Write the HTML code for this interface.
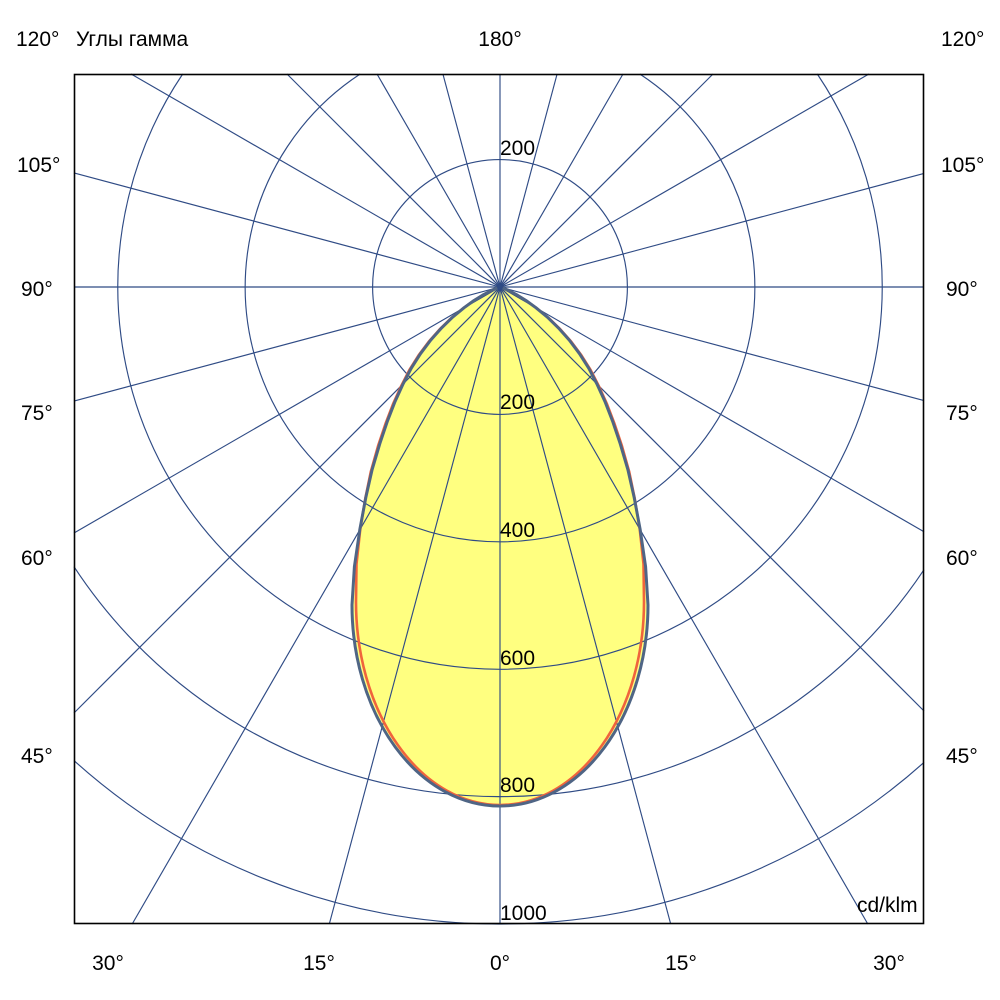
<!DOCTYPE html>
<html>
<head>
<meta charset="utf-8">
<style>
html,body{margin:0;padding:0;background:#fff;width:1000px;height:1000px;overflow:hidden;}
svg{display:block;position:absolute;left:0;top:0;}
text{font-family:"Liberation Sans",Arial,sans-serif;font-size:21px;fill:#000;}
</style>
</head>
<body>
<svg width="1000" height="1000" viewBox="0 0 1000 1000" xmlns="http://www.w3.org/2000/svg">
<rect x="0" y="0" width="1000" height="1000" fill="#fff"/>

<!-- yellow fill (blue curve) -->
<path fill="#ffff80" stroke="none" d="M500,287 L494.0,289.2 482.7,295.1 474.0,300.5 464.1,307.7 452.7,317.1 441.6,327.9 430.7,340.1 420.5,353.7 411.2,368.3 403.1,383.9 395.0,401.6 387.4,421.2 379.8,443.7 372.1,469.7 365.8,497.6 359.8,529.7 354.4,566.7 352,605 A148,201 0 0 0 648,605 L645.6,566.7 640.2,529.7 634.2,497.6 627.9,469.7 620.2,443.7 612.6,421.2 605.0,401.6 596.9,383.9 588.8,368.3 579.5,353.7 569.3,340.1 558.4,327.9 547.3,317.1 535.9,307.7 526.0,300.5 517.3,295.1 506.0,289.2 Z"/>

<!-- grid -->
<g stroke="#2f4b85" stroke-width="1.15" fill="none">
<circle cx="500" cy="287" r="127.4"/>
<path d="M360.2,74 A254.8,254.8 0 1 0 639.8,74"/>
<path d="M182.7,74 A382.2,382.2 0 1 0 817.3,74"/>
<path d="M74,566.7 A509.6,509.6 0 0 0 924,569.7"/>
<path d="M74,760.6 A637,637 0 0 0 924,762.4"/>
<line x1="74" y1="287" x2="924" y2="287"/>
<line x1="74" y1="172.9" x2="924" y2="400.6"/>
<line x1="131.1" y1="74" x2="924" y2="531.8"/>
<line x1="287" y1="74" x2="924" y2="711"/>
<line x1="377" y1="74" x2="867.8" y2="924"/>
<line x1="442.9" y1="74" x2="670.7" y2="924"/>
<line x1="500" y1="74" x2="500" y2="924"/>
<line x1="557.1" y1="74" x2="329.3" y2="924"/>
<line x1="623" y1="74" x2="132.2" y2="924"/>
<line x1="713" y1="74" x2="74" y2="713"/>
<line x1="868.9" y1="74" x2="74" y2="533"/>
<line x1="924" y1="173.4" x2="74" y2="401.1"/>
</g>

<!-- red curve -->
<path fill="none" stroke="#f0643c" stroke-width="2.6" stroke-linejoin="round" d="M500,287 L494.0,289.2 482.7,295.1 473.6,300.8 463.3,308.2 451.3,318.0 439.8,329.2 428.8,341.6 418.6,355.3 409.4,370.0 401.4,385.6 393.3,403.4 385.7,423.2 378.1,445.8 370.9,471.3 365.3,498.4 360.3,528.9 356.5,564.0 356,602 A144,203 0 0 0 644,602 L643.5,564.0 639.7,528.9 634.7,498.4 629.1,471.3 621.9,445.8 614.3,423.2 606.7,403.4 598.6,385.6 590.6,370.0 581.4,355.3 571.2,341.6 560.2,329.2 548.7,318.0 536.7,308.2 526.4,300.8 517.3,295.1 506.0,289.2 Z"/>

<!-- blue curve -->
<path fill="none" stroke="#4f6585" stroke-width="3" stroke-linejoin="round" d="M500,287 L494.0,289.2 482.7,295.1 474.0,300.5 464.1,307.7 452.7,317.1 441.6,327.9 430.7,340.1 420.5,353.7 411.2,368.3 403.1,383.9 395.0,401.6 387.4,421.2 379.8,443.7 372.1,469.7 365.8,497.6 359.8,529.7 354.4,566.7 352,605 A148,201 0 0 0 648,605 L645.6,566.7 640.2,529.7 634.2,497.6 627.9,469.7 620.2,443.7 612.6,421.2 605.0,401.6 596.9,383.9 588.8,368.3 579.5,353.7 569.3,340.1 558.4,327.9 547.3,317.1 535.9,307.7 526.0,300.5 517.3,295.1 506.0,289.2 Z"/>

<circle cx="500" cy="287" r="3" fill="#2f4b85"/>

<!-- box -->
<rect x="74.5" y="74.5" width="849" height="849" fill="none" stroke="#000" stroke-width="1.6"/>

<!-- radial value labels -->
<text x="500" y="155">200</text>
<text x="500" y="409">200</text>
<text x="500" y="537">400</text>
<text x="500" y="665">600</text>
<text x="500" y="792">800</text>
<text x="500" y="920">1000</text>
<text x="857" y="912">cd/klm</text>

<!-- top labels -->
<text x="16" y="46">120°</text>
<text x="76" y="46">Углы гамма</text>
<text x="500" y="46" text-anchor="middle">180°</text>
<text x="941" y="46">120°</text>

<!-- left labels -->
<text x="17" y="172">105°</text>
<text x="21" y="296">90°</text>
<text x="21" y="420">75°</text>
<text x="21" y="565">60°</text>
<text x="21" y="763">45°</text>

<!-- right labels -->
<text x="941" y="172">105°</text>
<text x="946" y="296">90°</text>
<text x="946" y="420">75°</text>
<text x="946" y="565">60°</text>
<text x="946" y="763">45°</text>

<!-- bottom labels -->
<text x="108" y="970" text-anchor="middle">30°</text>
<text x="319" y="970" text-anchor="middle">15°</text>
<text x="500" y="970" text-anchor="middle">0°</text>
<text x="681" y="970" text-anchor="middle">15°</text>
<text x="889" y="970" text-anchor="middle">30°</text>
</svg>
</body>
</html>
